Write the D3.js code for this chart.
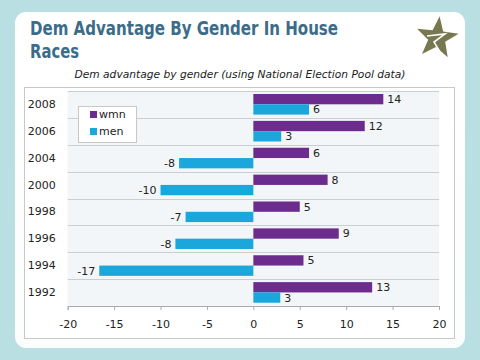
<!DOCTYPE html>
<html><head><meta charset="utf-8">
<script src="https://cdn.jsdelivr.net/npm/d3@7"></script>
<style>html,body{margin:0;padding:0;background:#b9dfe2;}svg{display:block;}</style>
</head><body>
<script>
const years = ["2008","2006","2004","2000","1998","1996","1994","1992"];
const wmn = [14, 12, 6, 8, 5, 9.2, 5.4, 12.8];
const men = [6, 3, -8, -10, -7.3, -8.4, -16.6, 2.9];
const seriesNames = ["wmn","men"];
const xTicks = [-20,-15,-10,-5,0,5,10,15,20];
const colors = {wmn:"#6b2c8e", men:"#1ba6dc"};

const W=480,H=360;
const svg=d3.select("body").append("svg").attr("width",W).attr("height",H);
svg.append("rect").attr("width",W).attr("height",H).attr("fill","#b9dfe2");
const defs=svg.append("defs");
const g1=defs.append("linearGradient").attr("id","card").attr("x1",0).attr("y1",0).attr("x2",0).attr("y2",1);
g1.append("stop").attr("offset","0%").attr("stop-color","#ffffff");
g1.append("stop").attr("offset","100%").attr("stop-color","#fbfcfc");
svg.append("rect").attr("x",15).attr("y",12).attr("width",450).attr("height",336).attr("rx",11).attr("fill","url(#card)");

// title
const title=svg.append("g").attr("font-family","'DejaVu Sans', Verdana, sans-serif").attr("font-weight","bold").attr("font-size",19).attr("fill","#3b6c89");
title.append("text").attr("x",30).attr("y",34.5).attr("textLength",308).attr("lengthAdjust","spacingAndGlyphs").text("Dem Advantage By Gender In House");
title.append("text").attr("x",30).attr("y",57.5).attr("textLength",49).attr("lengthAdjust","spacingAndGlyphs").text("Races");

// logo star
const cx=437,cy=38,R=22,r=9;
const pts=d3.range(10).map(i=>{const a=-Math.PI/2+i*Math.PI/5+0.12;const rr=i%2?r:R;return [cx+rr*Math.cos(a),cy+rr*Math.sin(a)];});
svg.append("polygon").attr("points",pts.map(p=>p.join(",")).join(" ")).attr("fill","#77784f");
svg.append("path").attr("d",`M${cx-10},${cy-2} L${cx+8},${cy-4} L${cx-3},${cy+4} L${cx+3},${cy+14}`).attr("fill","none").attr("stroke","#fff").attr("stroke-width",1.6);

// chart frame
svg.append("rect").attr("x",24.5).attr("y",87.5).attr("width",430).attr("height",251).attr("fill","#fff").attr("stroke","#c8c8c8");

// subtitle
svg.append("text").attr("x",240).attr("y",78).attr("text-anchor","middle").attr("font-family","DejaVu Sans, Verdana, sans-serif").attr("font-style","italic").attr("font-size",11).attr("fill","#222").attr("textLength",331).attr("lengthAdjust","spacingAndGlyphs").text("Dem advantage by gender (using National Election Pool data)");

const x=d3.scaleLinear().domain([-20,20]).range([67.7,439]);
const y=d3.scaleBand().domain(years).range([91,306]).paddingInner(0).paddingOuter(0);

// plot bg
svg.append("rect").attr("x",x(-20)).attr("y",91).attr("width",x(20)-x(-20)).attr("height",215).attr("fill","#f3f6f9");
// gridlines between bands
const gl=svg.append("g");
years.forEach(yr=>{gl.append("line").attr("x1",x(-20)).attr("x2",x(20)).attr("y1",Math.round(y(yr))+0.5).attr("y2",Math.round(y(yr))+0.5).attr("stroke","#c9ced3");});

const bh=10.3, off=3;
const font="DejaVu Sans, Verdana, sans-serif";
const bars=svg.append("g");
years.forEach((yr,i)=>{
  const y0=y(yr)+off;
  [["wmn",wmn[i],y0],["men",men[i],y0+bh]].forEach(([s,v,yy])=>{
    bars.append("rect").attr("x",x(Math.min(0,v))).attr("y",yy).attr("width",Math.abs(x(v)-x(0))).attr("height",bh).attr("fill",colors[s]);
    bars.append("text").attr("x",v>=0?x(v)+4:x(v)-4).attr("y",yy+bh/2).attr("dy","0.36em")
      .attr("text-anchor",v>=0?"start":"end").attr("font-family",font).attr("font-size",11).attr("fill","#222")
      .text(Math.round(v));
  });
});

// x axis
const xa=svg.append("g").attr("transform","translate(0,306)").call(d3.axisBottom(x).tickValues(xTicks).tickSize(4).tickPadding(10).tickFormat(d3.format("d")));
xa.select(".domain").attr("stroke","#aaa");
xa.selectAll(".tick line").attr("stroke","#aaa");
xa.selectAll("text").attr("font-family",font).attr("font-size",11).attr("fill","#222");
xa.selectAll("text").text(d=>String(d));

// y axis labels
const ya=svg.append("g").attr("transform",`translate(${x(-20)},0)`).call(d3.axisLeft(y).tickSize(0).tickPadding(12));
ya.select(".domain").remove();
ya.selectAll("text").attr("font-family",font).attr("font-size",11).attr("fill","#222");

// legend
const lg=svg.append("g");
lg.append("rect").attr("x",78.5).attr("y",106.5).attr("width",58).attr("height",36).attr("fill","#fff").attr("stroke","#c8c8c8");
seriesNames.forEach((s,i)=>{
  lg.append("rect").attr("x",90).attr("y",111+i*17).attr("width",7).attr("height",7).attr("fill",colors[s]);
  lg.append("text").attr("x",99).attr("y",114.5+i*17).attr("dy","0.36em").attr("font-family",font).attr("font-size",11).attr("fill","#222").text(s);
});
</script>
</body></html>
